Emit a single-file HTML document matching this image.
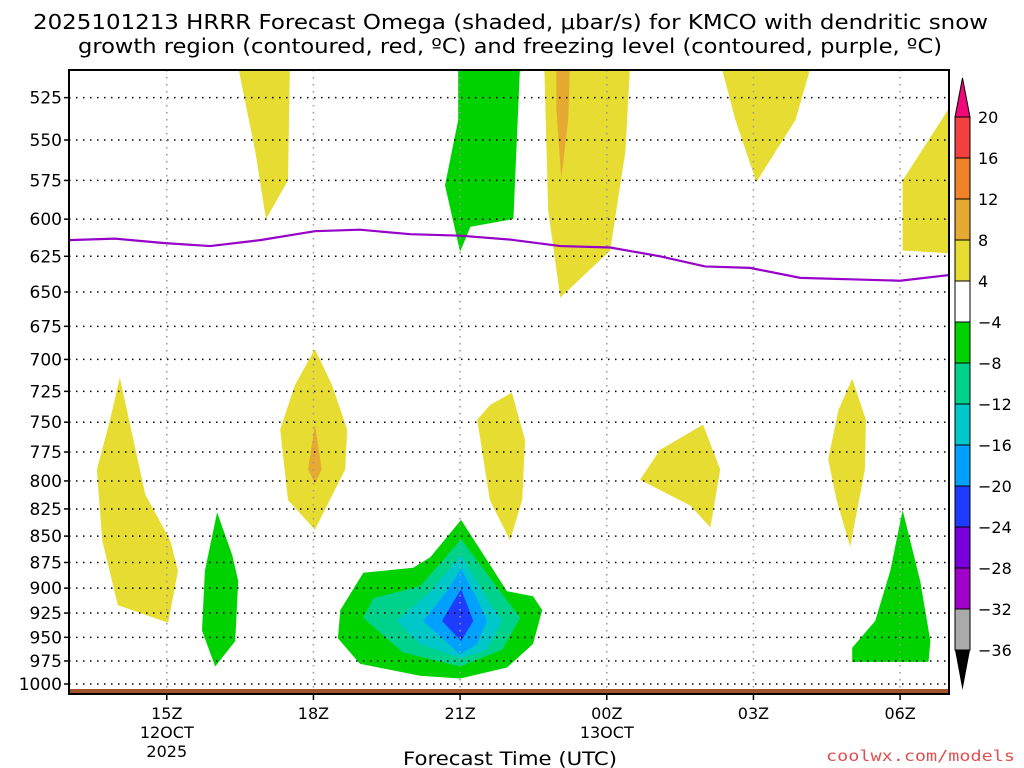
<!DOCTYPE html>
<html><head><meta charset="utf-8"><style>
body{margin:0;background:#fff;}
svg{display:block;font-family:"DejaVu Sans","Liberation Sans",sans-serif;}
</style></head><body>
<svg id="c" width="1024" height="768"></svg>
<script>
const xTickHours=[15,18,21,24,27,30];
const xTickLabels=["15Z","18Z","21Z","00Z","03Z","06Z"];
const xSubLabels=[["12OCT","2025"],[],[],["13OCT"],[],[]];
const yTicks=[525,550,575,600,625,650,675,700,725,750,775,800,825,850,875,900,925,950,975,1000];
const cbLevels=[20,16,12,8,4,-4,-8,-12,-16,-20,-24,-28,-32,-36];
const cbColors=["#f24040","#f08228","#e6aa32","#e6dc32","#ffffff","#00d200","#00d28c","#00c8c8","#00a0ff","#1e3cff","#7800dc","#a000c8","#aaaaaa"];
const freezeHours=[13,13.94,14.96,15.89,16.91,18.03,18.95,19.98,21.0,22.02,23.05,24.07,25.09,26.01,26.93,27.96,28.98,30.0,31];
const freezeP=[614,613,616,618,614,608,607,610,611,613.6,618,619,625,632,633,640,641,642,638];
const shapes=[
 {c:"#e6dc32",h:[16.44,17.52,17.48,17.03,16.81],p:[505,505,575,600,557]},
 {c:"#00d200",h:[20.96,22.23,22.09,21.21,21.0,20.69,20.96],p:[505,505,600,605,622,578,538]},
 {c:"#e6dc32",h:[22.72,24.48,24.38,24.07,23.05,22.8],p:[505,505,557,621,654,594]},
 {c:"#e6aa32",h:[22.97,23.25,23.21,23.07,22.97],p:[505,505,538,574,532]},
 {c:"#e6dc32",h:[26.32,28.2,27.86,27.06,26.63],p:[505,505,538,576,538]},
 {c:"#e6dc32",h:[30.05,31.05,31.05,30.05],p:[575,529,623,621]},
 {c:"#e6dc32",h:[14.04,14.56,15.07,15.23,15.03,14.0,13.68,13.57,13.84],p:[714,812,854,883,935,917,854,790,748]},
 {c:"#00d200",h:[16.03,16.34,16.46,16.4,15.99,15.72,15.78],p:[828,868,893,954,981,943,883]},
 {c:"#e6dc32",h:[18.03,18.38,18.69,18.65,18.03,17.48,17.32,17.62],p:[692,720,756,790,844,817,756,720]},
 {c:"#e6aa32",h:[18.03,18.17,18.03,17.89],p:[752,790,802,790]},
 {c:"#e6dc32",h:[22.06,22.33,22.27,22.02,21.61,21.35,21.61],p:[726,765,817,854,817,748,736]},
 {c:"#e6dc32",h:[25.97,26.32,26.12,25.71,24.68,25.09],p:[752,790,842,822,799,773]},
 {c:"#e6dc32",h:[29.02,29.3,29.28,28.98,28.7,28.53,28.74],p:[715,748,790,860,817,781,740]},
 {c:"#00d200",h:[30.05,30.41,30.62,30.58,29.02,29.02,29.49,29.8],p:[826,893,954,976,976,961,933,883]},
 {c:"#00d200",h:[21.02,21.96,22.49,22.68,22.49,21.96,21.0,20.18,18.95,18.5,18.55,19.02,20.04,20.39],p:[835,903,908,922,957,982,994,991,978,951,922,885,880,870]},
 {c:"#00d28c",h:[21.02,21.82,22.23,21.86,21.0,19.83,19.02,19.22,20.18],p:[853,903,930,963,981,966,930,910,898]},
 {c:"#00c8c8",h:[21.02,21.55,21.86,21.55,21.0,20.18,19.71,20.39],p:[868,910,933,963,972,957,933,903]},
 {c:"#00a0ff",h:[21.02,21.37,21.55,21.35,21.0,20.24,20.73],p:[881,913,933,957,968,933,903]},
 {c:"#1e3cff",h:[21.02,21.27,21.02,20.63],p:[901,933,954,933]}
];
const L=69,R=949,T=70,B=694;
const X=h=>L+(h-13)*(R-L)/18;
const Y=p=>684-(Math.log(1000)-Math.log(p))*910;
const svg=document.getElementById('c');
const NS="http://www.w3.org/2000/svg";
function mk(tag,at,txt){const e=document.createElementNS(NS,tag);for(const k in at)e.setAttribute(k,at[k]);if(txt!==undefined)e.textContent=txt;svg.appendChild(e);return e;}
const defs=mk('defs',{});const cp=document.createElementNS(NS,'clipPath');cp.setAttribute('id','pc');
const cr=document.createElementNS(NS,'rect');cr.setAttribute('x',L);cr.setAttribute('y',T);cr.setAttribute('width',R-L);cr.setAttribute('height',B-T);cp.appendChild(cr);defs.appendChild(cp);
const g=mk('g',{'clip-path':'url(#pc)'});


function add(parent,tag,at){const e=document.createElementNS(NS,tag);for(const k in at)e.setAttribute(k,at[k]);parent.appendChild(e);return e;}
shapes.forEach((s,i)=>{
 const pts=s.h.map((h,j)=>X(h).toFixed(1)+','+Y(s.p[j]).toFixed(1)).join(' ');
 const e=add(g,'polygon',{points:pts,fill:s.c});
 
 
});
yTicks.forEach(p=>{const e=add(g,'line',{x1:L,x2:R,y1:Y(p),y2:Y(p),stroke:'#000','stroke-width':1.5,'stroke-dasharray':'1.5,5.5'});
 
 });
xTickHours.forEach(h=>{const e=add(g,'line',{x1:X(h),x2:X(h),y1:T,y2:B,stroke:'#999','stroke-width':1.5,'stroke-dasharray':'1.5,5.5'});
 
 });
const tr=add(g,'rect',{x:L,y:689,width:R-L,height:5,fill:'#a0522d'});


const fl=add(g,'polyline',{points:freezeHours.map((h,i)=>X(h)+','+Y(freezeP[i])).join(' '),fill:'none',stroke:'#9600c8','stroke-width':2.2});


const fr=mk('rect',{x:L,y:T,width:R-L,height:B-T,fill:'none',stroke:'#000','stroke-width':2});


yTicks.forEach(p=>{
 mk('line',{x1:L-5,x2:L,y1:Y(p),y2:Y(p),stroke:'#000','stroke-width':1.5});
 const t=mk('text',{x:L-7,y:Y(p)+6,'text-anchor':'end','font-size':17},p);
 
 
});
xTickHours.forEach((h,i)=>{
 mk('line',{x1:X(h),x2:X(h),y1:B,y2:B+6,stroke:'#000','stroke-width':1.5});
 const t=mk('text',{x:X(h),y:719,'text-anchor':'middle','font-size':16},xTickLabels[i]);
 
 
 xSubLabels[i].forEach((s,j)=>{const u=mk('text',{x:X(h),y:738+j*19,'text-anchor':'middle','font-size':16},s);
 
 });
});
const xt=mk('text',{x:403,y:765,'font-size':19,textLength:214,lengthAdjust:'spacingAndGlyphs'},'Forecast Time (UTC)');


const t1=mk('text',{x:33,y:29,'font-size':20,textLength:955,lengthAdjust:'spacingAndGlyphs'},'2025101213 HRRR Forecast Omega (shaded, \u03bcbar/s) for KMCO with dendritic snow');


const t2=mk('text',{x:78,y:53,'font-size':20,textLength:864,lengthAdjust:'spacingAndGlyphs'},'growth region (contoured, red, \u00baC) and freezing level (contoured, purple, \u00baC)');


const cw=mk('text',{x:826,y:761,'font-size':15,fill:'#e05050','font-family':'DejaVu Sans Mono, Liberation Mono, monospace',textLength:189,lengthAdjust:'spacingAndGlyphs'},'coolwx.com/models');


const cx=955,cwid=15,cTop=117,cStep=(650-117)/13;
const cy=v=>cTop+cbLevels.indexOf(v)*cStep;
const up=mk('polygon',{points:`${cx},${cTop} ${cx+cwid},${cTop} ${cx+cwid/2},78`,fill:'#f0087a',stroke:'#000','stroke-width':1});


cbColors.forEach((c,i)=>{const r=mk('rect',{x:cx,y:cy(cbLevels[i]),width:cwid,height:cStep,fill:c,stroke:'#000','stroke-width':1});
 
 });
const dn=mk('polygon',{points:`${cx},650 ${cx+cwid},650 ${cx+cwid/2},690`,fill:'#000'});


cbLevels.forEach(v=>{const t=mk('text',{x:978,y:cy(v)+6,'font-size':16},v<0?'\u2212'+(-v):String(v));
 
 });
</script>
</body></html>
